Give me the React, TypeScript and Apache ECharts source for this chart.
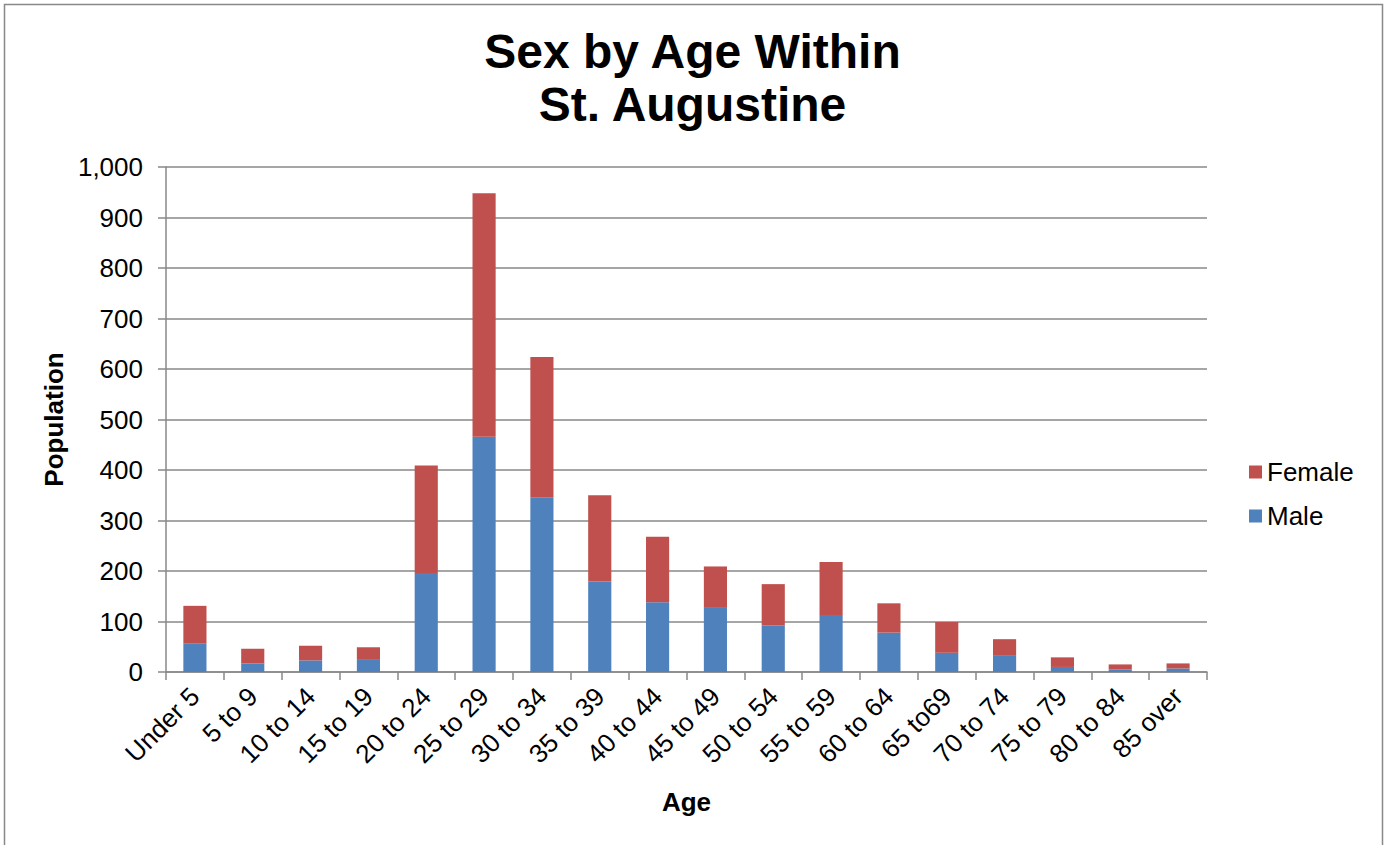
import React, { useEffect, useRef } from "react";
import * as echarts from "echarts";

const categories = [
  "Under 5", "5 to 9", "10 to 14", "15 to 19", "20 to 24", "25 to 29",
  "30 to 34", "35 to 39", "40 to 44", "45 to 49", "50 to 54", "55 to 59",
  "60 to 64", "65 to69", "70 to 74", "75 to 79", "80 to 84", "85 over",
];
const maleValues = [57, 17, 23, 24, 196, 466, 346, 179, 138, 127, 92, 113, 78, 38, 32, 10, 5, 7];
const femaleValues = [74, 29, 29, 25, 213, 482, 278, 171, 130, 82, 82, 105, 58, 61, 33, 19, 10, 10];
const yTicks = { min: 0, max: 1000, interval: 100 };

const FONT = 'Arial, "Liberation Sans", sans-serif';
const GRAY = "#898989";
const LABEL_SIZE = 26;

export default function App() {
  const ref = useRef<HTMLDivElement>(null);
  useEffect(() => {
    if (!ref.current) return;
    const chart = echarts.init(ref.current, null, { renderer: "svg" });
    chart.setOption({
      animation: false,
      backgroundColor: "#ffffff",
      textStyle: { fontFamily: FONT },
      title: {
        text: "Sex by Age Within\nSt. Augustine",
        left: "center",
        top: 25,
        padding: 0,
        textStyle: {
          fontFamily: FONT,
          fontSize: 48,
          fontWeight: "bold",
          color: "#000",
          lineHeight: 53,
        },
      },
      graphic: [
        {
          type: "rect",
          shape: { x: 4.5, y: 4.5, width: 1378, height: 900 },
          style: { fill: "none", stroke: GRAY, lineWidth: 1.5 },
          silent: true,
        },
      ],
      legend: {
        orient: "vertical",
        left: 1249,
        top: 459,
        itemWidth: 13,
        itemHeight: 13,
        itemGap: 18,
        icon: "rect",
        data: ["Female", "Male"],
        textStyle: { fontFamily: FONT, fontSize: LABEL_SIZE, color: "#000", padding: [0, 0, 0, 0] },
        padding: 0,
      },
      grid: { left: 166, right: 178, top: 167, bottom: 845 - 672, containLabel: false },
      xAxis: {
        type: "category",
        data: categories,
        name: "Age",
        nameLocation: "middle",
        nameGap: 117,
        nameTextStyle: { fontFamily: FONT, fontSize: LABEL_SIZE, fontWeight: "bold", color: "#000" },
        axisLine: { lineStyle: { color: GRAY, width: 1.5 } },
        axisTick: { show: true, length: 8, lineStyle: { color: GRAY, width: 1.5 } },
        axisLabel: { rotate: 45, fontSize: LABEL_SIZE, color: "#000", margin: 20, interval: 0, fontFamily: FONT },
      },
      yAxis: {
        type: "value",
        min: yTicks.min,
        max: yTicks.max,
        interval: yTicks.interval,
        name: "Population",
        nameLocation: "middle",
        nameGap: 99,
        nameRotate: 90,
        nameTextStyle: { fontFamily: FONT, fontSize: LABEL_SIZE, fontWeight: "bold", color: "#000" },
        axisLine: { show: true, lineStyle: { color: GRAY, width: 1.5 } },
        axisTick: { show: true, length: 8, lineStyle: { color: GRAY, width: 1.5 } },
        splitLine: { lineStyle: { color: GRAY, width: 1.5 } },
        axisLabel: {
          fontSize: LABEL_SIZE,
          color: "#000",
          margin: 23,
          fontFamily: FONT,
          formatter: (v: number) => v.toLocaleString("en-US"),
        },
      },
      series: [
        {
          name: "Male",
          type: "bar",
          stack: "total",
          data: maleValues,
          barWidth: "40%",
          itemStyle: { color: "#4F81BD" },
        },
        {
          name: "Female",
          type: "bar",
          stack: "total",
          data: femaleValues,
          barWidth: "40%",
          itemStyle: { color: "#C0504D" },
        },
      ],
    });
    return () => chart.dispose();
  }, []);
  return (
    <div
      ref={ref}
      style={{ position: "absolute", left: 0, top: 0, width: 1385, height: 845 }}
    />
  );
}
